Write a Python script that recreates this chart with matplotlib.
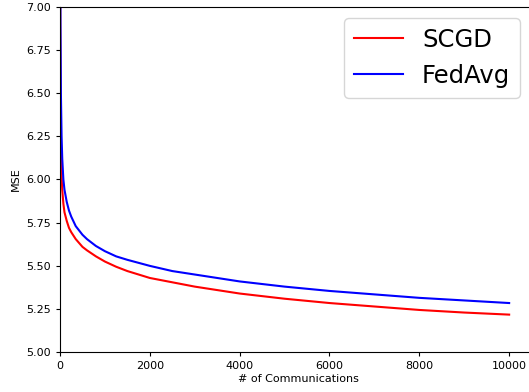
import matplotlib
matplotlib.use("Agg")
import matplotlib.pyplot as plt
import numpy as np

# communication rounds
comms = [0, 5, 10, 20, 35, 50, 75, 100, 150, 200, 250, 350, 500, 600, 800,
         1000, 1250, 1500, 2000, 2500, 3000, 4000, 5000, 6000, 7000, 8000,
         9000, 10000]

mse_scgd = [9.0, 6.9, 6.55, 6.22, 6.02, 5.94, 5.86, 5.81, 5.76, 5.72, 5.695,
            5.655, 5.61, 5.59, 5.555, 5.525, 5.495, 5.47, 5.43, 5.405, 5.38,
            5.34, 5.31, 5.285, 5.265, 5.245, 5.23, 5.218]
mse_fedavg = [9.0, 7.3, 6.9, 6.5, 6.25, 6.12, 6.0, 5.94, 5.87, 5.82, 5.785,
              5.73, 5.68, 5.655, 5.615, 5.585, 5.555, 5.535, 5.50, 5.47, 5.45,
              5.41, 5.38, 5.355, 5.335, 5.315, 5.30, 5.285]

fig = plt.figure(figsize=(5.29, 3.92), dpi=100)
# right edge of the axes sits just past the figure border (cropped original)
ax = fig.add_axes([60 / 529, 39.7 / 392, 477 / 529, 345.7 / 392])

ax.plot(comms, mse_scgd, color='red', lw=1.5, label='SCGD')
ax.plot(comms, mse_fedavg, color='blue', lw=1.5, label='FedAvg')

ax.set_xlim(0, 10620)
ax.set_ylim(5.0, 7.0)
ax.set_yticks(np.arange(5.0, 7.01, 0.25))
ax.set_xticks([0, 2000, 4000, 6000, 8000, 10000])
ax.tick_params(labelsize=8, length=3)

ax.set_xlabel('# of Communications', fontsize=8, labelpad=2)
ax.set_ylabel('MSE', fontsize=8)

leg = ax.legend(loc='upper right', fontsize=17.5, borderaxespad=0,
                bbox_to_anchor=(520 / 529, 1 - 18 / 392),
                bbox_transform=fig.transFigure)

fig.savefig('out.png', dpi=100)
